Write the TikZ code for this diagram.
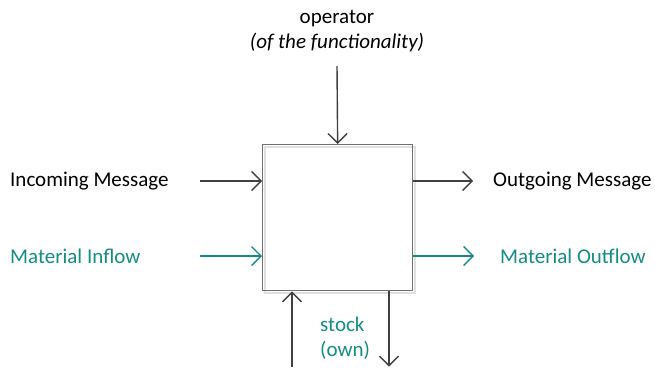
\documentclass[tikz,border=0pt]{standalone}
\usepackage{fontspec}
\setmainfont{Carlito}
\usetikzlibrary{arrows.meta}
\definecolor{linegray}{RGB}{64,64,64}
\definecolor{boxgray}{RGB}{112,112,112}
\definecolor{shadowgray}{RGB}{224,224,224}
\definecolor{tealc}{RGB}{20,140,132}
\tikzset{
  lbl/.style={inner sep=0pt, font=\fontsize{21}{25}\selectfont},
  conn/.style={line width=1.4pt, -{Straight Barb[length=9.5pt,width=19pt,line width=1.4pt]}},
}
\begin{document}
\begin{tikzpicture}[x=1pt,y=-1pt]
\useasboundingbox (0,0) rectangle (655,367);
% shadow outline
\draw[shadowgray, line width=1.2pt] (265,147) rectangle (415,293);
% main box
\node[draw=boxgray, line width=1.3pt, minimum width=150pt, minimum height=146pt, inner sep=0pt, anchor=north west] (box) at (262,144) {};
% labels
\node[lbl, align=center] (op) at (337,31) {operator\\\textit{(of the functionality)}};
\node[lbl, anchor=west] (inmsg) at (10,181) {Incoming Message};
\node[lbl, anchor=west, text=tealc] (inmat) at (10,256) {Material Inflow};
\node[lbl, anchor=west] (outmsg) at (493,181) {Outgoing Message};
\node[lbl, anchor=west, text=tealc] (outmat) at (500,256) {Material Outflow};
\node[lbl, anchor=west, align=left, text=tealc] (stock) at (320,338) {stock\\(own)};
% coordinates
\coordinate (opS) at (337,66);
\coordinate (inA) at (200,181);
\coordinate (inB) at (200,256);
\coordinate (outA) at (473,181);
\coordinate (outB) at (474,256);
\coordinate (upS) at (292,367);
\coordinate (downE) at (389,366.5);
% connectors
\draw[conn, draw=linegray] (opS) -- (box.north);
\draw[conn, draw=linegray] (inA) -- (box.west |- inA);
\draw[conn, draw=tealc] (inB) -- (box.west |- inB);
\draw[conn, draw=linegray] (box.east |- outA) -- (outA);
\draw[conn, draw=tealc] (box.east |- outB) -- (outB);
\draw[conn, draw=linegray] (upS) -- (box.south -| upS);
\draw[conn, draw=linegray] (box.south -| downE) -- (downE);
\end{tikzpicture}
\end{document}
